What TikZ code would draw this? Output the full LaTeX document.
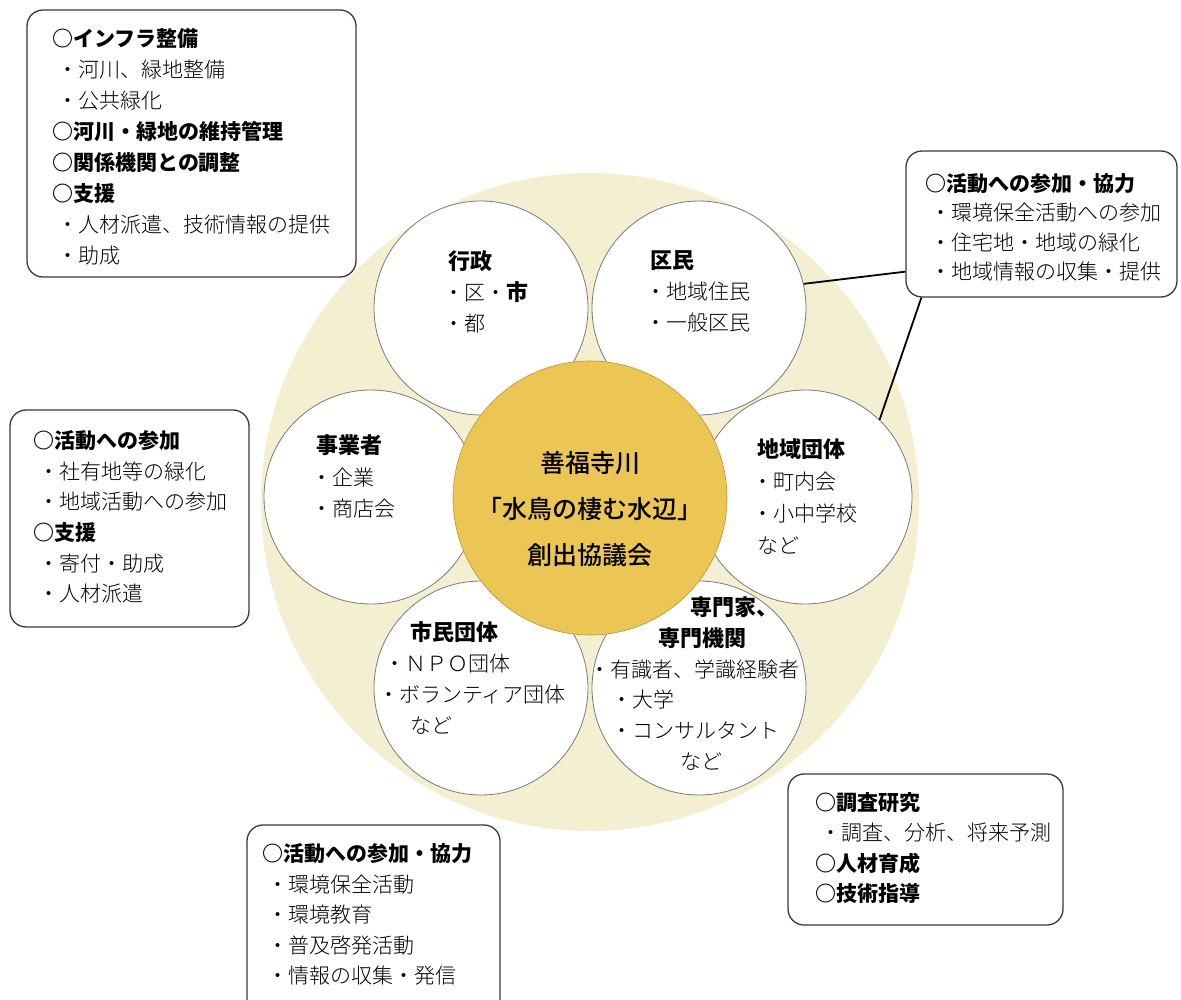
\documentclass[tikz,border=0pt]{standalone}
\usepackage{fontspec}
\setmainfont{Noto Sans CJK JP}
\newfontfamily\lightjp{Noto Sans CJK JP}[UprightFont=* Light, BoldFont=* Bold]
\newfontfamily\medjp{Noto Sans CJK JP}[UprightFont=* Medium]
\definecolor{beige}{HTML}{F5EFD2}
\definecolor{gold}{HTML}{ECC655}
\definecolor{goldline}{HTML}{B8963A}
\definecolor{circc}{HTML}{7A7A7A}
\definecolor{boxc}{HTML}{3A3A3A}
\newcommand\hd[1]{{\normalfont\bfseries #1}}
\newcommand\chd[1]{{\normalfont\fontsize{22}{31}\selectfont\bfseries #1}}
\newcommand\itm[1]{\hspace*{5pt}・#1}
\tikzset{
  boxst/.style={draw=boxc, line width=1.3pt, rounded corners=16pt, fill=white, inner sep=0pt},
  wcirc/.style={circle, draw=circc, line width=0.8pt, fill=white, minimum size=214pt, inner sep=0pt},
  btext/.style={anchor=north west, inner sep=0pt, align=left, font=\lightjp\fontsize{21}{#1}\selectfont},
  ctext/.style={anchor=north west, inner sep=0pt, align=left, font=\lightjp\fontsize{21}{#1}\selectfont},
  conn/.style={line width=1.8pt, draw=black}
}
\begin{document}
\begin{tikzpicture}[x=1pt,y=-1pt]
\useasboundingbox (0,0) rectangle (1181,1000);
\fill[white] (0,0) rectangle (1181,1000);
% background disc
\node[circle, fill=beige, minimum size=658pt, inner sep=0pt] (bg) at (590,502) {};
% member circles
\node[wcirc] (gyosei) at (481,308) {};
\node[wcirc] (kumin)  at (699,308) {};
\node[wcirc] (jigyo)  at (371,497) {};
\node[wcirc] (chiiki) at (805,497) {};
\node[wcirc] (shimin) at (481,688) {};
\node[wcirc] (senmon) at (699,688) {};
% central circle
\node[circle, fill=gold, draw=goldline, line width=0.6pt, minimum size=274pt, inner sep=0pt] (core) at (590,498) {};
\node[align=center, inner sep=0pt, font=\medjp\fontsize{25}{46}\selectfont] (coretext) at (590,509)
  {善福寺川\\「水鳥の棲む水辺」\\創出協議会};
% circle texts
\node[ctext=31] (t1) at (448,250.5) {\chd{行政}\\\hspace*{-5pt}・区・\chd{市}\\\hspace*{-5pt}・都};
\node[ctext=31] (t2) at (650,250.5) {\chd{区民}\\\hspace*{-5pt}・地域住民\\\hspace*{-5pt}・一般区民};
\node[ctext=31.5] (t3) at (316,434.5) {\chd{事業者}\\\hspace*{-5pt}・企業\\\hspace*{-5pt}・商店会};
\node[ctext=32] (t4) at (757,438.5) {\chd{地域団体}\\\hspace*{-5pt}・町内会\\\hspace*{-5pt}・小中学校\\など};
\node[ctext=31] (t5) at (378,621.5) {\hspace*{32pt}\chd{市民団体}\\\hspace*{6pt}・ＮＰＯ団体\\・ボランティア団体\\\hspace*{32pt}など};
\node[ctext=30.8] (t6) at (589,596.5) {\hspace*{101pt}\chd{専門家、}\\\hspace*{69pt}\chd{専門機関}\\・有識者、学識経験者\\\hspace*{22pt}・大学\\\hspace*{22pt}・コンサルタント\\\hspace*{91pt}など};
% boxes
\node[boxst, minimum width=329pt, minimum height=267pt] (b1) at (191.5,143.5) {};
\node[boxst, minimum width=271pt, minimum height=146pt] (b2) at (1041.5,224) {};
\node[boxst, minimum width=239pt, minimum height=217pt] (b3) at (129.5,518.5) {};
\node[boxst, minimum width=253pt, minimum height=200pt] (b4) at (373.5,925) {};
\node[boxst, minimum width=275pt, minimum height=151pt] (b5) at (925.5,849.5) {};
% box texts
\node[btext=31] (bt1) at (52,28.5) {\hd{○インフラ整備}\\\itm{河川、緑地整備}\\\itm{公共緑化}\\\hd{○河川・緑地の維持管理}\\\hd{○関係機関との調整}\\\hd{○支援}\\\itm{人材派遣、技術情報の提供}\\\itm{助成}};
\node[btext=29.3] (bt2) at (925,173.5) {\hd{○活動への参加・協力}\\\itm{環境保全活動への参加}\\\itm{住宅地・地域の緑化}\\\itm{地域情報の収集・提供}};
\node[btext=30.6] (bt3) at (33,430.5) {\hd{○活動への参加}\\\itm{社有地等の緑化}\\\itm{地域活動への参加}\\\hd{○支援}\\\itm{寄付・助成}\\\itm{人材派遣}};
\node[btext=30.5] (bt4) at (262,843.5) {\hd{○活動への参加・協力}\\\itm{環境保全活動}\\\itm{環境教育}\\\itm{普及啓発活動}\\\itm{情報の収集・発信}};
\node[btext=30.3] (bt5) at (815,792.5) {\hd{○調査研究}\\\itm{調査、分析、将来予測}\\\hd{○人材育成}\\\hd{○技術指導}};
% connectors
\draw[conn] (kumin.13) -- ([yshift=26pt]b2.south west);
\draw[conn] (chiiki.46) -- ([xshift=16pt]b2.south west);
\end{tikzpicture}
\end{document}
